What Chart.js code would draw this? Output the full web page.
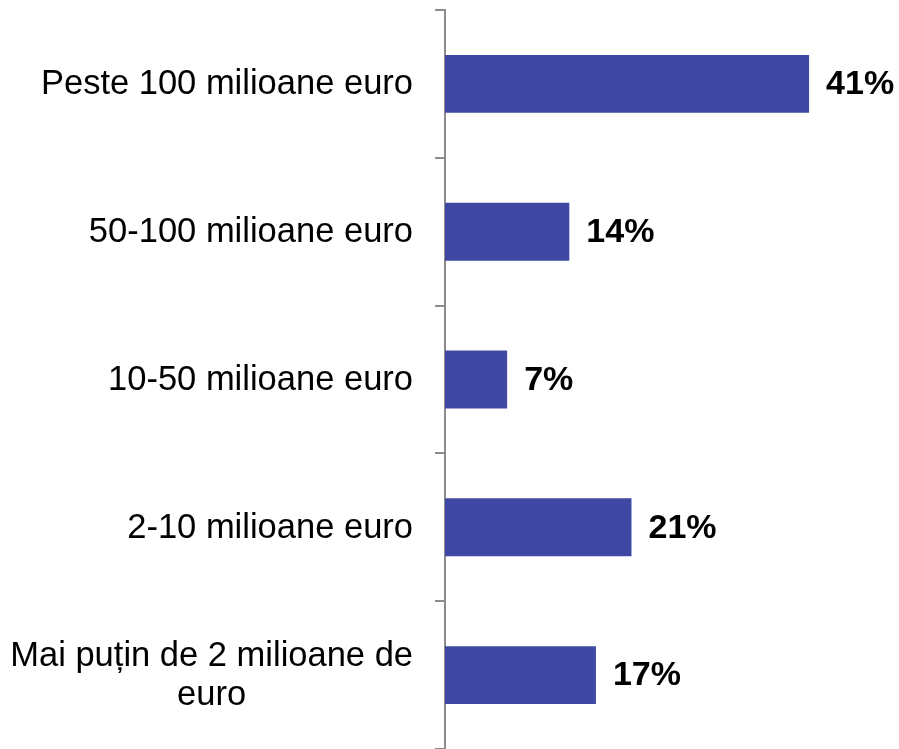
<!DOCTYPE html>
<html>
<head>
<meta charset="utf-8">
<script src="https://cdn.jsdelivr.net/npm/chart.js@4/dist/chart.umd.min.js"></script>
<style>
  html, body { margin: 0; padding: 0; background: #fff; }
  #wrap { width: 899px; height: 749px; }
</style>
</head>
<body>
<div id="wrap"><canvas id="chart" width="899" height="749"></canvas></div>
<script>
// ── DATA ──────────────────────────────────────────────────────────────────────
const categories = [
  'Peste 100 milioane euro',
  '50-100 milioane euro',
  '10-50 milioane euro',
  '2-10 milioane euro',
  ['Mai puțin de 2 milioane de', 'euro']
];
const shares = [41, 14, 7, 21, 17];

const FONT = '"Liberation Sans", Arial, sans-serif';
const AXIS_GREY = '#8c8c8c';

// ── CATEGORY LABELS (right-aligned block, lines centred inside) ──────────────
const categoryLabels = {
  id: 'categoryLabels',
  afterDraw(chart) {
    const ctx = chart.ctx;
    const y = chart.scales.y;
    const right = 413;
    const lineH = 39;
    ctx.save();
    ctx.font = '34.5px ' + FONT;
    ctx.fillStyle = '#000';
    ctx.textBaseline = 'middle';
    ctx.textAlign = 'center';
    categories.forEach((lab, i) => {
      const lines = Array.isArray(lab) ? lab : [lab];
      const w = Math.max(...lines.map(l => ctx.measureText(l).width));
      const cx = right - w / 2;
      const cy = y.getPixelForValue(i) + 1;
      const top = cy - (lines.length - 1) * lineH / 2;
      lines.forEach((l, k) => ctx.fillText(l, cx, top + k * lineH));
    });
    ctx.restore();
  }
};

// ── VALUE LABELS ─────────────────────────────────────────────────────────────
const valueLabels = {
  id: 'valueLabels',
  afterDatasetsDraw(chart) {
    const ctx = chart.ctx;
    const meta = chart.getDatasetMeta(0);
    ctx.save();
    ctx.font = 'bold 34px ' + FONT;
    ctx.fillStyle = '#000';
    ctx.textBaseline = 'middle';
    ctx.textAlign = 'left';
    meta.data.forEach((bar, i) => {
      ctx.fillText(shares[i] + '%', bar.x + 17, bar.y + 1);
    });
    ctx.restore();
  }
};

// ── CHART ────────────────────────────────────────────────────────────────────
new Chart(document.getElementById('chart'), {
  type: 'bar',
  data: {
    labels: categories.map(c => Array.isArray(c) ? c.join(' ') : c),
    datasets: [{
      data: shares,
      backgroundColor: '#3F48A3',
      borderWidth: 0,
      barPercentage: 0.392,
      categoryPercentage: 1
    }]
  },
  options: {
    indexAxis: 'y',
    responsive: false,
    animation: false,
    events: [],
    layout: { padding: { top: 10, right: 10, bottom: 0, left: 0 } },
    plugins: {
      legend: { display: false },
      tooltip: { enabled: false }
    },
    scales: {
      x: {
        display: false,
        min: 0,
        max: 50
      },
      y: {
        grid: {
          offset: true,
          drawOnChartArea: false,
          drawTicks: true,
          tickLength: 10,
          color: AXIS_GREY,
          lineWidth: 2
        },
        border: { color: AXIS_GREY, width: 2 },
        ticks: { display: false },
        afterFit: s => { s.width = 445; }
      }
    }
  },
  plugins: [categoryLabels, valueLabels]
});
</script>
</body>
</html>
